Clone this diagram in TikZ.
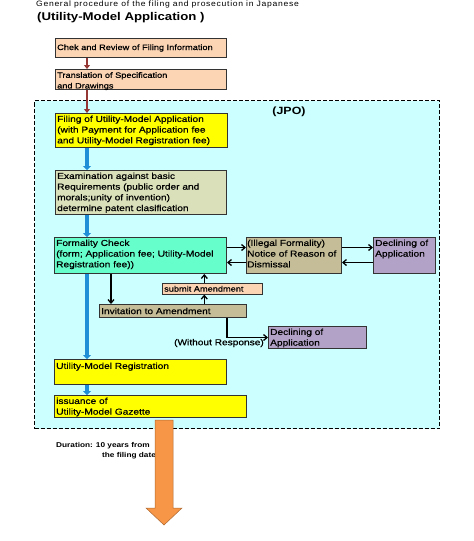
\documentclass[tikz,border=0pt]{standalone}
\usepackage{fontspec}
\setmainfont{Liberation Sans}[FakeStretch=1.18]
\newfontfamily\boxfont{Liberation Sans}[FakeStretch=1.18,FakeBold=0.6]
\newfontfamily\titlefont{Liberation Sans}[FakeStretch=1.1,LetterSpace=9]
\usetikzlibrary{arrows.meta,calc}
\definecolor{peach}{HTML}{FCD5B4}
\definecolor{yel}{HTML}{FFFF00}
\definecolor{exam}{HTML}{D9E0BA}
\definecolor{mint}{HTML}{66FFCC}
\definecolor{tan}{HTML}{C4BD97}
\definecolor{lav}{HTML}{B3A2C7}
\definecolor{jpo}{HTML}{CCFFFF}
\definecolor{maroon}{HTML}{953735}
\definecolor{blu}{HTML}{1F8FD8}
\definecolor{orng}{HTML}{F79646}
\begin{document}
\begin{tikzpicture}[x=1pt,y=-1pt,
  box/.style={draw=black!80,line width=1pt,anchor=north west,inner sep=0pt},
  txt/.style={anchor=north west,inner sep=0pt,align=left,font=\boxfont\fontsize{8.6}{10.7}\selectfont},
  stxt/.style={txt,font=\boxfont\fontsize{7.8}{10.6}\selectfont},
  arr/.style={draw=black,line width=1.3pt,-{Straight Barb[length=3.5pt,width=6pt,line width=1.3pt]}},
  marr/.style={draw=maroon,line width=2.6pt,-{Triangle[length=4pt,width=6pt]}},
  barr/.style={draw=blu,line width=4pt,-{Triangle[length=4pt,width=8pt]}}]
\useasboundingbox (0,0) rectangle (474,541);
% titles
\node[anchor=west,inner sep=0pt,font=\titlefont\fontsize{7.8}{9}\selectfont] (t1) at (36,4.5) {General procedure of the filing and prosecution in Japanese};
\node[anchor=west,inner sep=0pt,font=\fontsize{11.2}{13}\selectfont\bfseries] (t2) at (37,18) {(Utility-Model Application )};
% JPO region
\node[draw=black,line width=1pt,dash pattern=on 4pt off 2pt,fill=jpo,anchor=north west,inner sep=0pt,minimum width=405pt,minimum height=328pt] (jpo) at (34,100) {};
\node[font=\fontsize{10.5}{12}\selectfont\bfseries,inner sep=0pt] (jpol) at (289,112) {(JPO)};
% boxes
\node[box,fill=peach,minimum width=171pt,minimum height=19pt] (chk) at (55,38) {};
\node[box,fill=peach,minimum width=171pt,minimum height=20pt] (trans) at (55,69) {};
\node[box,fill=yel,minimum width=172pt,minimum height=34pt] (fil) at (55,113) {};
\node[box,fill=exam,minimum width=171pt,minimum height=44pt] (exam) at (55,170) {};
\node[box,fill=mint,minimum width=172pt,minimum height=36pt] (form) at (54,237) {};
\node[box,fill=tan,minimum width=95pt,minimum height=36pt] (ill) at (246,237) {};
\node[box,fill=lav,minimum width=62pt,minimum height=36pt] (dec1) at (373,237) {};
\node[box,fill=peach,line width=0.6pt,minimum width=100pt,minimum height=11pt] (sub) at (162,283) {};
\node[box,fill=tan,minimum width=147pt,minimum height=13pt] (inv) at (99,304) {};
\node[box,fill=lav,minimum width=98pt,minimum height=22pt] (dec2) at (268,326) {};
\node[box,fill=yel,minimum width=172pt,minimum height=25pt] (reg) at (54,359) {};
\node[box,fill=yel,minimum width=192pt,minimum height=22pt] (gaz) at (54,395) {};
% texts
\node[stxt,anchor=west] (chkt) at ([xshift=2pt]chk.west) {Chek and Review of Filing Information};
\node[stxt] (transt) at ([shift={(2pt,-3pt)}]trans.north west) {Translation of Specification\\and Drawings};
\node[txt] (filt) at ([shift={(2pt,-2.5pt)}]fil.north west) {Filing of Utility-Model Application\\(with Payment for Application fee\\and Utility-Model Registration fee)};
\node[txt] (examt) at ([shift={(2pt,-2.5pt)}]exam.north west) {Examination against basic\\Requirements (public order and\\morals;unity of invention)\\determine patent clasification};
\node[txt] (formt) at ([shift={(2pt,-2.5pt)}]form.north west) {Formality Check\\(form; Application fee; Utility-Model\\Registration fee))};
\node[txt] (illt) at ([shift={(1pt,-2.5pt)}]ill.north west) {(Illegal Formality)\\Notice of Reason of\\Dismissal};
\node[txt] (dec1t) at ([shift={(2pt,-2.5pt)}]dec1.north west) {Declining of\\Application};
\node[stxt,anchor=west] (subt) at ([xshift=2pt]sub.west) {submit Amendment};
\node[txt,anchor=west] (invt) at ([xshift=2pt]inv.west) {Invitation to Amendment};
\node[txt] (dec2t) at ([shift={(2pt,-2.5pt)}]dec2.north west) {Declining of\\Application};
\node[txt,anchor=east] (wor) at (264,343) {(Without Response)};
\node[txt] (regt) at ([shift={(2pt,-3.5pt)}]reg.north west) {Utility-Model Registration};
\node[txt] (gazt) at ([shift={(2pt,-2.5pt)}]gaz.north west) {issuance of\\Utility-Model Gazette};
\node[anchor=north west,inner sep=0pt,align=left,font=\fontsize{7}{10}\selectfont\bfseries] (dur) at (56,442) {Duration: 10 years from\\\hspace*{46pt}the filing date};
% connectors
\draw[marr] ([xshift=32pt]chk.south west) -- ([xshift=32pt]chk.south west |- trans.north);
\draw[marr] ([xshift=32pt]trans.south west) -- ([xshift=32pt]trans.south west |- fil.north);
\draw[barr] ([xshift=32pt]fil.south west) -- ([xshift=32pt]fil.south west |- exam.north);
\draw[barr] ([xshift=32pt]exam.south west) -- ([xshift=32pt]exam.south west |- form.north);
\draw[barr] ([xshift=33pt]form.south west) -- ([xshift=33pt]form.south west |- reg.north);
\draw[barr] ([xshift=33pt]reg.south west) -- ([xshift=33pt]reg.south west |- gaz.north);
\draw[arr] ([yshift=8pt]form.east) -- ([yshift=8pt]ill.west);
\draw[arr] ([yshift=-7pt]ill.west) -- ([yshift=-7pt]form.east);
\draw[arr] ([yshift=8pt]ill.east) -- ([yshift=8pt]dec1.west);
\draw[arr] ([yshift=-7pt]dec1.west) -- ([yshift=-7pt]ill.east);
\draw[arr] ([xshift=12pt]inv.north west |- form.south) -- ([xshift=12pt]inv.north west);
\draw[arr] ([xshift=-8pt]sub.south |- inv.north) -- ([xshift=-8pt]sub.south);
\draw[arr] ([xshift=-8pt]sub.north) -- ([xshift=-8pt]sub.north |- form.south);
\draw[arr] ([xshift=-20pt]inv.south east) |- (dec2.west);
% orange arrow
\draw[draw=orng!70!black,fill=orng,line width=0.5pt] (155,420) -- (173,420) -- (173,508) -- (182,508) -- (164,525) -- (146,508) -- (155,508) -- cycle;
\end{tikzpicture}
\end{document}
